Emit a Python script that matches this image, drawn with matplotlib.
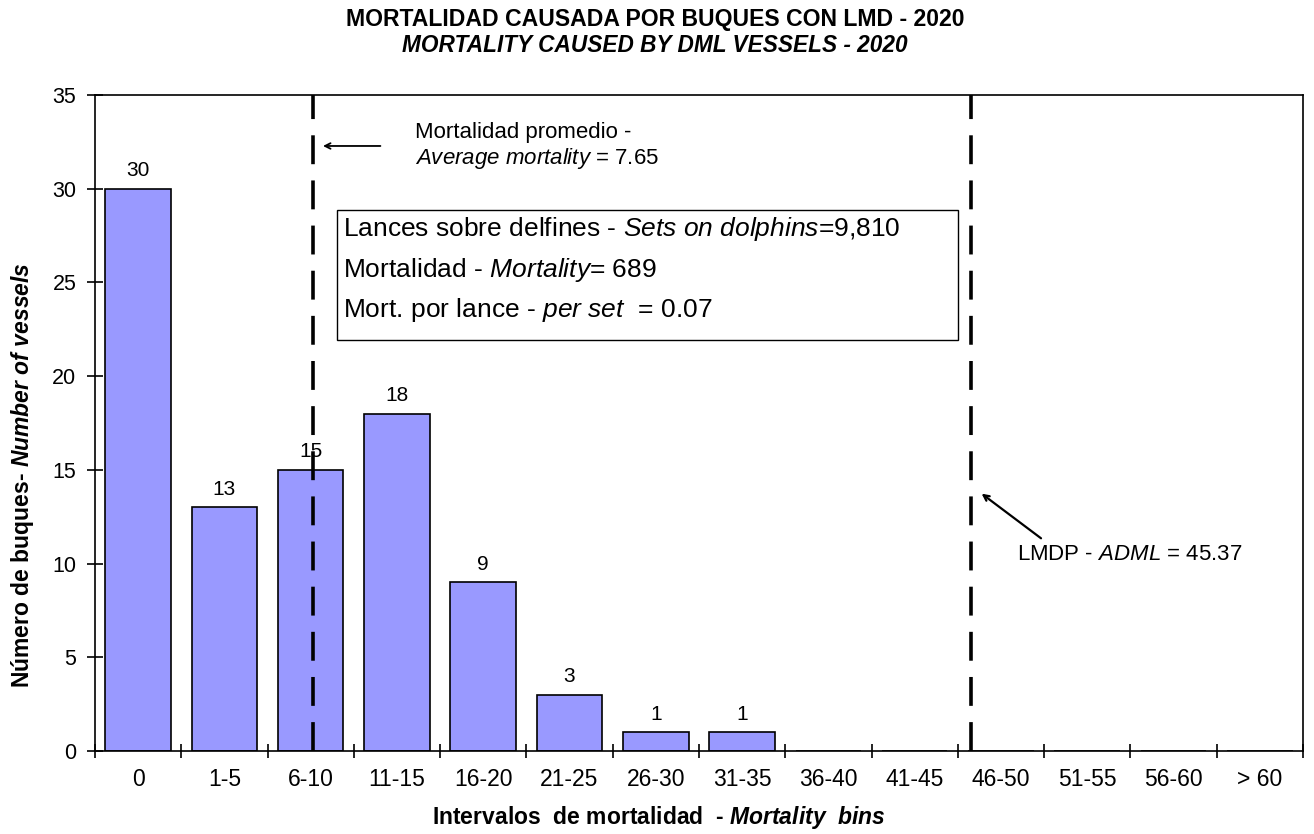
# bar chart of vessel mortality bins, DML 2020

import matplotlib
matplotlib.use('Agg')
import matplotlib.pyplot as plt
from matplotlib.patches import Rectangle

bins = ['0', '1-5', '6-10', '11-15', '16-20', '21-25', '26-30', '31-35',
        '36-40', '41-45', '46-50', '51-55', '56-60', '> 60']
vessels = [30, 13, 15, 18, 9, 3, 1, 1, 0, 0, 0, 0, 0, 0]
avg_pos = 2.03    # average mortality 7.65, in bin units
adml_pos = 9.65   # ADML 45.37, in bin units
box_lines = [r'Lances sobre delfines - $\mathit{Sets\ on\ dolphins}$=9,810',
             r'Mortalidad - $\mathit{Mortality}$= 689',
             r'Mort. por lance - $\mathit{per\ set}$  = 0.07']

plt.rcParams['font.family'] = ['Liberation Sans', 'DejaVu Sans']
plt.rcParams['mathtext.fontset'] = 'custom'
plt.rcParams['mathtext.rm'] = 'Liberation Sans'
plt.rcParams['mathtext.it'] = 'Liberation Sans:italic'
plt.rcParams['mathtext.bf'] = 'Liberation Sans:bold:italic'

fig = plt.figure(figsize=(13.14, 8.34), dpi=100)
ax = fig.add_axes([0.0723, 0.0995, 0.9193, 0.7866])

x = list(range(len(bins)))
ax.bar(x, vessels, width=0.76, color='#9999FF', edgecolor='black', linewidth=1.2, zorder=2)
for xi, v in zip(x, vessels):
    if v > 0:
        ax.text(xi, v + 0.45, str(v), ha='center', va='bottom', fontsize=15)

ax.set_xlim(-0.5, len(bins) - 0.5)
ax.set_ylim(0, 35)
ax.set_yticks(range(0, 36, 5))
ax.set_xticks([i + 0.5 for i in range(-1, len(bins))], minor=False)
ax.set_xticklabels([])
ax.set_xticks(x, minor=True)
ax.set_xticklabels(bins, minor=True)
ax.tick_params(axis='x', which='major', direction='inout', length=10, width=1.2)
ax.tick_params(axis='x', which='minor', length=0, pad=12, labelsize=16.5)
ax.tick_params(axis='y', direction='inout', length=11, width=1.2, labelsize=15.5, pad=8)
for s in ax.spines.values():
    s.set_linewidth(1.2)

# dashed reference lines
for pos in (avg_pos, adml_pos):
    ax.axvline(pos, color='black', lw=2.6, linestyle=(0, (8, 4.5)), zorder=3)

ax.annotate('', xy=(2.11, 32.28), xytext=(2.84, 32.28),
            arrowprops=dict(arrowstyle='->', lw=1.3, color='black'))
ax.text(3.21, 33.0, 'Mortalidad promedio -', fontsize=16, va='center', ha='left')
ax.text(3.21, 31.6, r'$\mathit{Average\ mortality}$ = 7.65', fontsize=16, va='center', ha='left')

ax.annotate('', xy=(9.75, 13.82), xytext=(10.49, 11.26),
            arrowprops=dict(arrowstyle='->', lw=1.6, color='black'))
ax.text(10.18, 10.48, r'LMDP - $\mathit{ADML}$ = 45.37', fontsize=16, va='center', ha='left')

# stats box
ax.add_patch(Rectangle((0.2003, 0.6265), 0.5141, 0.1982, transform=ax.transAxes,
                       facecolor='white', edgecolor='black', lw=1.0, zorder=4))
for yy, line in zip([0.7957, 0.733, 0.672], box_lines):
    ax.text(0.205, yy, line, transform=ax.transAxes, fontsize=19, va='center', ha='left', zorder=5)

fig.text(0.4985, 0.977, 'MORTALIDAD CAUSADA POR BUQUES CON LMD - 2020',
         ha='center', va='center', fontsize=16.6, fontweight='bold')
fig.text(0.4985, 0.946, 'MORTALITY CAUSED BY DML VESSELS - 2020',
         ha='center', va='center', fontsize=16.3, fontweight='bold', fontstyle='italic')

fig.text(0.017, 0.43, r'Número de buques- $\mathbf{Number\ of\ vessels}$',
         rotation=90, ha='center', va='center', fontsize=16.5, fontweight='bold')
fig.text(0.5015, 0.02, r'Intervalos  de mortalidad  - $\mathbf{Mortality\ \ bins}$',
         ha='center', va='center', fontsize=16.5, fontweight='bold')

fig.savefig('out.png', dpi=100)
